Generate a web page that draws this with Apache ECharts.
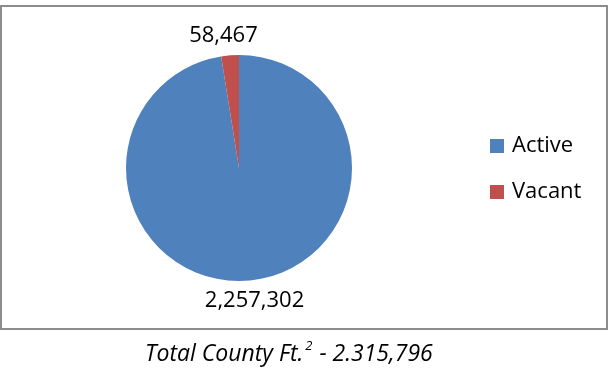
<!DOCTYPE html>
<html>
<head>
<meta charset="utf-8">
<script src="https://cdn.jsdelivr.net/npm/echarts@6/dist/echarts.min.js"></script>
<style>
  html, body { margin: 0; padding: 0; background: #fff; }
  #chart { width: 609px; height: 369px; }
</style>
</head>
<body>
<div id="chart"></div>
<script>
// Square footage split
const categories = ["Active", "Vacant"];
const values = [2257302, 58467];
const labelsText = ["2,257,302", "58,467"];
const caption = "Total County Ft.";
const captionTail = " - 2.315,796";

const COL_ACTIVE = "#4F81BD";
const COL_VACANT = "#C0504D";
const FONT = "'Open Sans', 'Liberation Sans', sans-serif";

const chart = echarts.init(document.getElementById("chart"), null, { renderer: "canvas" });

const option = {
  animation: false,
  backgroundColor: "#fff",
  color: [COL_ACTIVE, COL_VACANT],

  // caption under the framed chart area
  title: {
    text: "{t|" + caption + "}{s|2}{t|" + captionTail + "}",
    left: 140,
    top: 335,
    textStyle: {
      fontWeight: "normal",
      rich: {
        t: { fontFamily: FONT, fontStyle: "italic", fontWeight: "normal", fontSize: 23, color: "#000", lineHeight: 28 },
        s: { fontFamily: FONT, fontStyle: "italic", fontWeight: "normal", fontSize: 13, color: "#000", verticalAlign: "top", lineHeight: 28, padding: [0, 1, 12, 2] }
      }
    }
  },

  legend: {
    orient: "vertical",
    left: 485,
    top: 128,
    icon: "rect",
    itemWidth: 14,
    itemHeight: 14,
    itemGap: 20,
    selectedMode: false,
    data: categories,
    textStyle: { fontFamily: FONT, fontSize: 22, color: "#000", lineHeight: 26, padding: [0, 0, 0, 3] }
  },

  graphic: [
    {
      type: "rect",
      shape: { x: 1, y: 6, width: 606, height: 323 },
      style: { fill: "none", stroke: "#8c8c8c", lineWidth: 2 },
      silent: true,
      z: -1
    }
  ],

  series: [
    {
      type: "pie",
      center: [239, 168],
      radius: [0, 113],
      startAngle: 90,
      clockwise: true,
      silent: true,
      label: {
        show: true,
        position: "outside",
        fontFamily: FONT,
        fontSize: 22,
        color: "#000",
        formatter: p => labelsText[p.dataIndex]
      },
      labelLine: { show: false, length: 20, length2: 0 },
      labelLayout: { align: "center" },
      itemStyle: { borderColor: "#fff", borderWidth: 0 },
      data: categories.map((c, i) => ({ name: c, value: values[i] }))
    }
  ]
};

chart.setOption(option);
</script>
</body>
</html>
